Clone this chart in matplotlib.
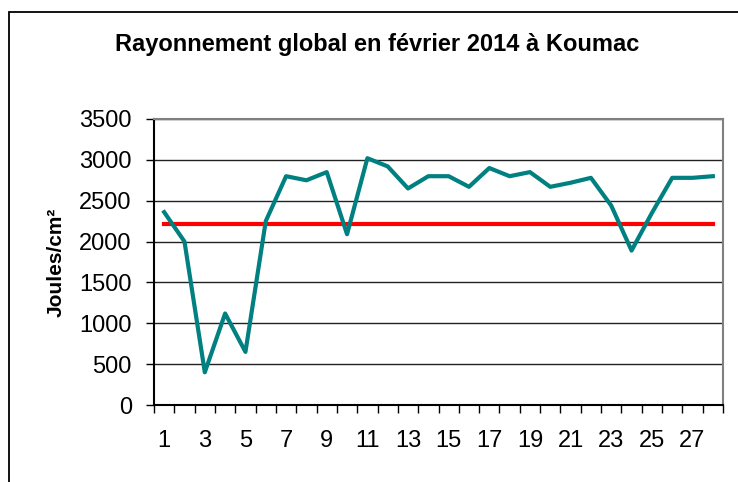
import matplotlib.pyplot as plt
from matplotlib.patches import Rectangle
import numpy as np

# données journalières (février 2014, Koumac)
jours = list(range(1, 29))
rayonnement = [2360, 2000, 400, 1120, 650, 2250, 2800, 2750, 2850, 2090,
               3020, 2920, 2650, 2800, 2800, 2670, 2900, 2800, 2850, 2670,
               2720, 2780, 2440, 1890, 2350, 2780, 2780, 2800]
reference = [2210] * 28
yticks = [0, 500, 1000, 1500, 2000, 2500, 3000, 3500]
xlabels = list(range(1, 29, 2))

plt.rcParams['font.family'] = ['Liberation Sans', 'DejaVu Sans']

fig = plt.figure(figsize=(7.38, 4.82), dpi=100)
ax = fig.add_axes([154/738, 1 - 405/482, (723-154)/738, (405-119)/482])

# cadre extérieur du graphique
fig.patches.append(Rectangle((9/738, -0.1), 1.0, 1 - 12/482 + 0.1,
                             transform=fig.transFigure, fill=False,
                             edgecolor='black', linewidth=1.3))

ax.plot(jours, reference, color='#ff0000', linewidth=3, zorder=3)
ax.plot(jours, rayonnement, color='#008080', linewidth=3, zorder=4)

ax.set_xlim(0.5, 28.5)
ax.set_ylim(0, 3500)
ax.set_yticks(yticks)
ax.set_xticks(xlabels)
ax.set_xticks(np.arange(0.5, 29, 1), minor=True)
ax.tick_params(axis='x', which='major', length=0, labelsize=17, pad=18)
ax.tick_params(axis='x', which='minor', length=6, width=1, direction='out')
ax.tick_params(axis='y', length=6, width=1, labelsize=17, pad=10)

ax.grid(axis='y', color='#222222', linewidth=1)
ax.set_axisbelow(True)
for s in ['top', 'right']:
    ax.spines[s].set_color('#808080')
    ax.spines[s].set_linewidth(1.5)
for s in ['left', 'bottom']:
    ax.spines[s].set_color('black')
    ax.spines[s].set_linewidth(1.5)

ax.set_ylabel('Joules/cm²', fontsize=15, fontweight='bold', labelpad=10)
fig.text(377/738, 1 - 45/482, 'Rayonnement global en février 2014 à Koumac',
         ha='center', va='center', fontsize=17, fontweight='bold')

plt.savefig('out.png', dpi=100)
